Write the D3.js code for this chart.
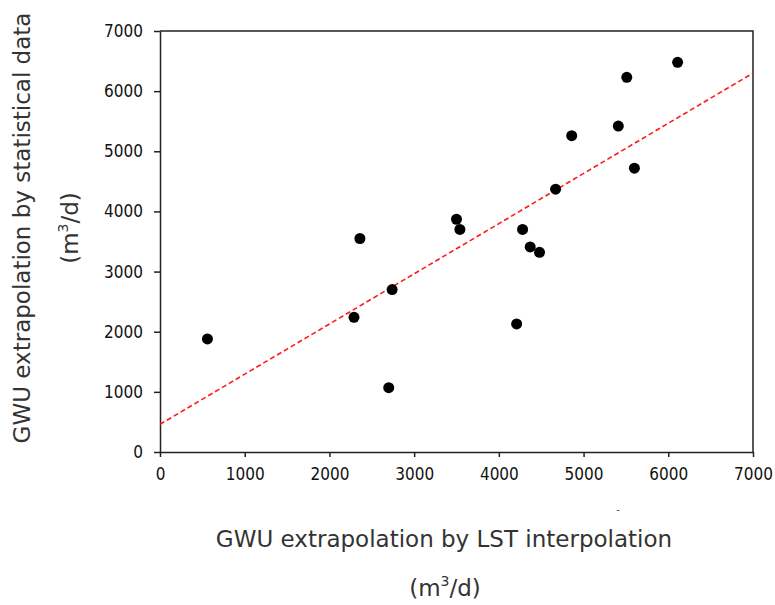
<!DOCTYPE html>
<html lang="en">

<head>
    <meta charset="UTF-8">
    <title>GWU extrapolation</title>
    <style>
        body {
            margin: 0;
            padding: 0;
            background: #fff;
        }

        .tick text {
            font-family: "DejaVu Sans Condensed", "DejaVu Sans", sans-serif;
            font-size: 17px;
            fill: #111;
        }

        .title {
            font-family: "DejaVu Sans", sans-serif;
            font-size: 23px;
            fill: #333;
        }
    </style>
</head>

<body>
    <svg id="chart" width="775" height="605"></svg>

    <script src="https://d3js.org/d3.v7.min.js"></script>
    <script>
        // values
        const lstValues = [560, 2360, 2290, 2740, 2700, 3500, 3540, 4280, 4370, 4480, 4210, 4670, 4860, 5410, 5510, 5600, 6110];
        const statValues = [1880, 3550, 2240, 2700, 1070, 3870, 3700, 3700, 3410, 3320, 2130, 4370, 5260, 5420, 6230, 4720, 6480];
        const trendX = [0, 7000];
        const trendY = [460, 6300];
        const tickValues = [0, 1000, 2000, 3000, 4000, 5000, 6000, 7000];

        const margin = { top: 31, left: 160, right: 22, bottom: 153 };
        const width = 775 - margin.left - margin.right;
        const height = 605 - margin.top - margin.bottom;

        const svg = d3.select('#chart');
        const g = svg.append('g')
            .attr('transform', `translate(${margin.left},${margin.top})`);

        const x = d3.scaleLinear().domain([0, 7000]).range([0, width]);
        const y = d3.scaleLinear().domain([0, 7000]).range([height, 0]);

        // frame (top + right)
        g.append('path')
            .attr('d', `M0,0H${width}V${height}`)
            .attr('fill', 'none')
            .attr('stroke', '#222')
            .attr('stroke-width', 1.5);

        const xAxis = g.append('g')
            .attr('transform', `translate(0,${height})`)
            .call(d3.axisBottom(x).tickValues(tickValues).tickFormat(d3.format('d'))
                .tickSizeInner(5).tickSizeOuter(0).tickPadding(11));

        const yAxis = g.append('g')
            .call(d3.axisLeft(y).tickValues(tickValues).tickFormat(d3.format('d'))
                .tickSizeInner(6).tickSizeOuter(0).tickPadding(11));

        [xAxis, yAxis].forEach(a => {
            a.attr('font-family', null).attr('font-size', null);
            a.selectAll('path, line').attr('stroke', '#222').attr('stroke-width', 1.5);
        });

        // trend line
        const line = d3.line().x(d => x(d[0])).y(d => y(d[1]));
        g.append('path')
            .datum(d3.zip(trendX, trendY))
            .attr('d', line)
            .attr('fill', 'none')
            .attr('stroke', '#ff1a1a')
            .attr('stroke-width', 1.6)
            .attr('stroke-dasharray', '5,3');

        // points
        g.selectAll('circle')
            .data(d3.zip(lstValues, statValues))
            .enter()
            .append('circle')
            .attr('cx', d => x(d[0]))
            .attr('cy', d => y(d[1]))
            .attr('r', 5.5)
            .attr('fill', '#000');

        // axis titles
        svg.append('text')
            .attr('class', 'title')
            .attr('x', 444)
            .attr('y', 547)
            .attr('text-anchor', 'middle')
            .text('GWU extrapolation by LST interpolation');

        const xUnit = svg.append('text')
            .attr('class', 'title')
            .attr('x', 445)
            .attr('y', 596)
            .attr('text-anchor', 'middle');
        xUnit.append('tspan').text('(m');
        xUnit.append('tspan').attr('dy', -10).attr('font-size', 14).text('3');
        xUnit.append('tspan').attr('dy', 10).text('/d)');

        svg.append('text')
            .attr('class', 'title')
            .attr('transform', 'translate(30,228) rotate(-90)')
            .attr('text-anchor', 'middle')
            .text('GWU extrapolation by statistical data');

        const yUnit = svg.append('text')
            .attr('class', 'title')
            .attr('transform', 'translate(78,228) rotate(-90)')
            .attr('text-anchor', 'middle');
        yUnit.append('tspan').text('(m');
        yUnit.append('tspan').attr('dy', -10).attr('font-size', 14).text('3');
        yUnit.append('tspan').attr('dy', 10).text('/d)');

        // stray mark under the x axis
        svg.append('text')
            .attr('x', 618)
            .attr('y', 513)
            .attr('text-anchor', 'middle')
            .attr('font-family', 'DejaVu Sans')
            .attr('font-size', 10)
            .attr('fill', '#446')
            .text('-');
    </script>
</body>

</html>
